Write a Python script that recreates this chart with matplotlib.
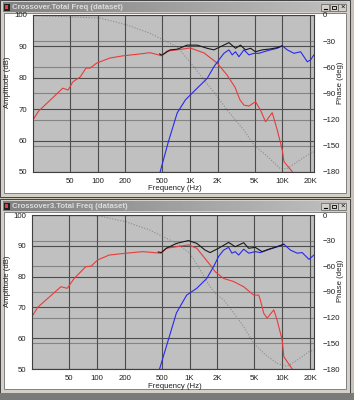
import numpy as np
import matplotlib.pyplot as plt
from matplotlib.patches import Rectangle
from matplotlib.colors import LinearSegmentedColormap

# ---- data, top window (Crossover) ----
red1_f = [20, 23, 31, 42, 48, 54, 65, 75, 83, 98, 136, 189, 288, 369, 496, 561, 724, 1004,
          1423, 1964, 2518, 3071, 3472, 3838, 4346, 5120, 5805, 6574, 7765, 8800, 9976, 10400, 12800]
red1_db = [66.6, 69.4, 73.0, 76.7, 76.1, 78.7, 80.3, 83.1, 83.1, 84.7, 86.3, 87.0, 87.6, 88.0, 87.0,
           88.5, 88.9, 89.5, 87.9, 84.7, 80.9, 77.0, 73.0, 71.3, 71.0, 72.4, 69.7, 66.0, 68.9, 63.4,
           57.0, 53.3, 50.1]
blue1_f = [475, 582, 727, 894, 1197, 1535, 1814, 2056, 2330, 2640, 2865, 3112, 3386, 3838, 4346,
           4922, 5575, 6313, 7448, 8800, 9976, 11300, 13360, 15740, 18620, 20200, 21980]
blue1_db = [50.0, 59.5, 68.8, 73.0, 76.7, 79.8, 83.5, 85.7, 87.8, 88.9, 87.3, 88.3, 86.7, 88.9, 87.3,
            87.8, 87.8, 88.3, 88.9, 89.4, 90.2, 88.9, 87.8, 88.3, 85.1, 85.7, 87.3]
black1_f = [470, 496, 610, 727, 932, 1197, 1535, 1814, 2139, 2640, 3112, 3524, 3990, 4520,
            5120, 6058, 7448, 8800, 9976]
black1_db = [87.6, 87.2, 88.9, 89.1, 90.4, 90.4, 89.4, 88.9, 89.9, 91.2, 89.4, 90.4, 88.9,
             89.4, 88.3, 88.9, 89.2, 89.6, 90.2]
phase1_f = [20, 106, 209, 370, 727, 1004, 1423, 1830, 2121, 2528, 3834, 4922, 6860, 9487, 11300,
            15620, 20000, 22000]
phase1_deg = [-0.5, -3.5, -11.5, -21, -36.7, -54, -74.5, -89, -98, -109, -132, -149, -162, -176,
              -176, -166, -158.6, -157]

# ---- data, bottom window (Crossover3) ----
red2_f = [20, 23, 29, 41, 48, 57, 76, 87, 102, 136, 207, 313, 495, 562, 727, 973, 1197, 1414,
          1668, 1888, 2330, 2988, 3838, 4922, 5575, 5805, 6313, 6860, 8110, 8800, 9976, 10400, 12800]
red2_db = [67.0, 70.0, 72.7, 76.7, 76.2, 79.4, 83.2, 83.4, 85.4, 87.0, 87.6, 88.1, 87.6, 89.2,
           89.7, 90.3, 89.2, 86.5, 83.8, 81.6, 79.4, 78.4, 76.7, 74.0, 74.0, 72.4, 68.1, 66.5,
           69.2, 65.9, 59.4, 54.0, 50.0]
blue2_f = [475, 582, 722, 932, 1197, 1535, 1814, 2056, 2330, 2640, 2865, 3112, 3386, 3838, 4346,
           5120, 5805, 6860, 8800, 10400, 12270, 14500, 16410, 19410, 21980]
blue2_db = [50.0, 58.8, 68.2, 74.0, 76.2, 79.4, 83.2, 86.5, 88.6, 89.5, 87.6, 88.1, 87.0, 88.9,
            87.6, 88.1, 87.8, 88.6, 89.7, 90.5, 88.6, 87.6, 87.8, 85.6, 87.0]
black2_f = [460, 495, 562, 727, 973, 1197, 1472, 1668, 2056, 2640, 3112, 3838, 4346, 5120, 6058,
            7155, 8800, 10400]
black2_db = [88.0, 87.8, 89.2, 90.8, 91.7, 90.8, 88.6, 87.8, 89.2, 91.1, 89.7, 91.0, 89.2, 89.5,
             88.1, 88.9, 89.7, 90.5]
phase2_f = [20, 106, 207, 370, 722, 1012, 1300, 1668, 1970, 2330, 3112, 3838, 4922, 6313, 8800,
            11300, 14500, 19410, 21980]
phase2_deg = [0, -1, -8, -17.5, -33, -45, -64, -84, -93.5, -99, -117, -130.6, -150, -161.7,
              -173.4, -177, -169.5, -159.8, -157.8]

xticks = [50, 100, 200, 500, 1000, 2000, 5000, 10000, 20000]
xlabels = ['50', '100', '200', '500', '1K', '2K', '5K', '10K', '20K']
titles = ['Crossover.Total Freq (dataset)', 'Crossover3.Total Freq (dataset)']

W, H = 354, 400
plt.rcParams['font.family'] = ['Liberation Sans', 'DejaVu Sans']
fig = plt.figure(figsize=(W / 100, H / 100), dpi=100, facecolor='#c8c4bc')

# background layer in pixel coordinates
bg = fig.add_axes([0, 0, 1, 1], zorder=0)
bg.set_xlim(0, W)
bg.set_ylim(H, 0)
bg.axis('off')
grad = LinearSegmentedColormap.from_list('tb', ['#808080', '#c0c0c0'])


def window(y0, y1, title):
    bg.add_patch(Rectangle((0, y0), 350, y1 - y0, fc='#d4d0c8', ec='#404040', lw=0.7))
    bg.add_patch(Rectangle((4, y0 + 13), 342, y1 - y0 - 17, fc='white', ec='#808080', lw=0.7))
    bg.imshow(np.linspace(0, 1, 100)[None, :], cmap=grad, aspect='auto',
              extent=(3, 347, y0 + 12, y0 + 2), zorder=1)
    bg.add_patch(Rectangle((3.5, y0 + 3.5), 6, 7, fc='#202020', ec='none', zorder=2))
    bg.add_patch(Rectangle((5, y0 + 5), 3, 4, fc='#e04040', ec='none', zorder=3))
    bg.text(12, y0 + 7.3, title, fontsize=5.6, fontweight='bold', color='#dcdcdc',
            va='center', ha='left', zorder=3)
    for i in range(3):
        bx = 321 + i * 8.5
        bg.add_patch(Rectangle((bx, y0 + 3.5), 8, 7, fc='#d4d0c8', ec='#606060', lw=0.5, zorder=2))
    bg.plot([323.5, 327], [y0 + 9, y0 + 9], color='k', lw=0.8, zorder=3)
    bg.add_patch(Rectangle((331.5, y0 + 5.5), 4, 3.5, fc='none', ec='k', lw=0.6, zorder=3))
    bg.text(342.5, y0 + 7.2, '×', fontsize=5.5, ha='center', va='center', zorder=3)


window(0, 197, titles[0])
window(199, 393, titles[1])
bg.add_patch(Rectangle((0, 393), W, 7, fc='#7a7a7a', ec='none'))


def chart(left, top, right, bottom, red, blue, black, phase):
    rect = [left / W, 1 - bottom / H, (right - left) / W, (bottom - top) / H]
    ax2 = fig.add_axes(rect, zorder=1)
    ax2.set_facecolor('#c0c0c0')
    ax2.set_xscale('log')
    ax2.set_xlim(20, 22000)
    ax2.set_ylim(-180, 0)
    ax2.yaxis.tick_right()
    ax2.set_yticks(range(-180, 1, 30))
    ax2.set_xticks([])
    ax2.minorticks_off()
    ax2.grid(axis='y', color='#848484', lw=0.8)
    ax2.tick_params(axis='y', length=0, pad=6, labelsize=5.6, labelcolor='#202020')
    ax2.plot(phase[0], phase[1], color='#8c8c8c', lw=0.8, ls=(0, (1, 1.5)))

    ax = fig.add_axes(rect, zorder=2)
    ax.patch.set_visible(False)
    ax.set_xscale('log')
    ax.set_xlim(20, 22000)
    ax.set_ylim(50, 100)
    ax.set_yticks(range(50, 101, 10))
    ax.set_xticks(xticks, xlabels)
    ax.minorticks_off()
    ax.grid(color='#4c4c4c', lw=0.8)
    ax.set_axisbelow(True)
    ax.tick_params(length=0, labelsize=5.6, labelcolor='#202020')
    ax.tick_params(axis='y', pad=4)
    ax.tick_params(axis='x', pad=4)
    ax.plot(red[0], red[1], color='#e83c3c', lw=0.8)
    ax.plot(blue[0], blue[1], color='#2828f0', lw=0.8)
    ax.plot(black[0], black[1], color='#181818', lw=0.8)
    for s in ax.spines.values():
        s.set_color('#404040')
        s.set_linewidth(0.8)
    for s in ax2.spines.values():
        s.set_visible(False)

    cy = (top + bottom) / 2 - 11
    fig.text(8 / W, 1 - cy / H, 'Amplitude (dB)', rotation=90, fontsize=5.6,
             ha='center', va='center', color='#202020')
    fig.text(340 / W, 1 - cy / H, 'Phase (deg)', rotation=90, fontsize=5.6,
             ha='center', va='center', color='#202020')
    fig.text(175 / W, 1 - (bottom + 17) / H, 'Frequency (Hz)', fontsize=5.6,
             ha='center', va='center', color='#202020')


chart(33, 15, 314, 172, (red1_f, red1_db), (blue1_f, blue1_db), (black1_f, black1_db),
      (phase1_f, phase1_deg))
chart(32, 215, 314, 369, (red2_f, red2_db), (blue2_f, blue2_db), (black2_f, black2_db),
      (phase2_f, phase2_deg))

fig.savefig('out.png', dpi=100, facecolor=fig.get_facecolor())
